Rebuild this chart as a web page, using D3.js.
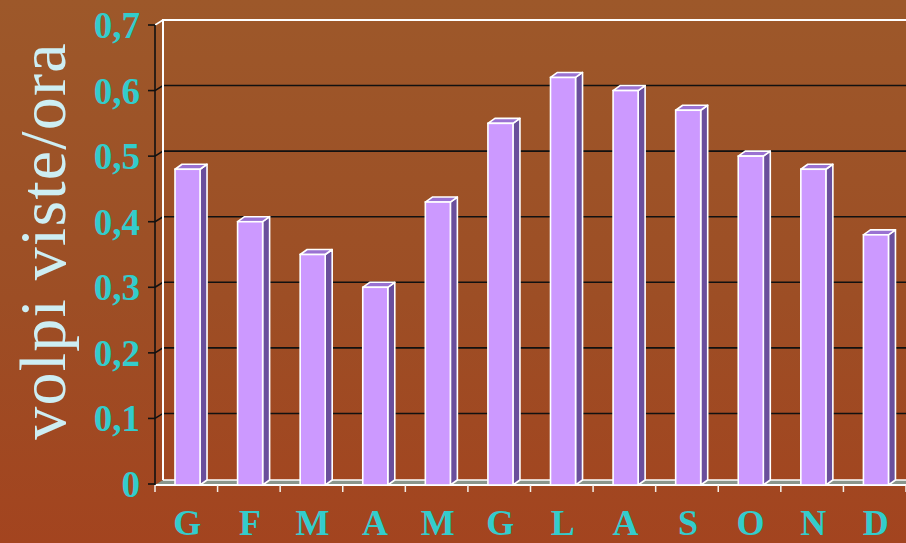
<!DOCTYPE html>
<html>
<head>
<meta charset="utf-8">
<script src="https://cdn.jsdelivr.net/npm/d3@7"></script>
<style>
  html, body { margin: 0; padding: 0; background: #9c4e24; }
  svg { display: block; }
</style>
</head>
<body>
<svg id="chart" width="906" height="543"></svg>
<script>
// Monthly fox sightings per hour
const months = ["G", "F", "M", "A", "M", "G", "L", "A", "S", "O", "N", "D"];
const values = [0.48, 0.40, 0.35, 0.30, 0.43, 0.55, 0.62, 0.60, 0.57, 0.50, 0.48, 0.38];
const yTicks = [0, 0.1, 0.2, 0.3, 0.4, 0.5, 0.6, 0.7];
const yTitle = "volpi viste/ora";

const W = 906, H = 543;
const svg = d3.select("#chart");

// depth offsets for the 3D look
const wallDx = 8, wallDy = -5;
const barDx = 7, barDy = -5;

const x = d3.scaleBand().domain(d3.range(months.length)).range([155, 906]).padding(0);
const y = d3.scaleLinear().domain([0, 0.7]).range([484, 25]);
const fmt = v => v === 0 ? "0" : d3.format(".1f")(v).replace(".", ",");

// background
const defs = svg.append("defs");
const bg = defs.append("linearGradient").attr("id", "bg").attr("x1", 0).attr("y1", 0).attr("x2", 0).attr("y2", 1);
bg.append("stop").attr("offset", "0%").attr("stop-color", "#9d582a");
bg.append("stop").attr("offset", "55%").attr("stop-color", "#9d4e25");
bg.append("stop").attr("offset", "100%").attr("stop-color", "#a3441f");
svg.append("rect").attr("width", W).attr("height", H).attr("fill", "url(#bg)");

const x0 = x.range()[0], x1 = x.range()[1];
const yTop = y(0.7), yBase = y(0);

// floor
svg.append("path")
  .attr("d", `M${x0},${yBase + 1} L${x0 + wallDx},${yBase + 1 + wallDy} L${x1 + wallDx},${yBase + 1 + wallDy} L${x1},${yBase + 1} Z`)
  .attr("fill", "#8a968c").attr("stroke", "none");
svg.append("line").attr("x1", x0 + wallDx).attr("x2", x1 + wallDx)
  .attr("y1", yBase + 1 + wallDy).attr("y2", yBase + 1 + wallDy)
  .attr("stroke", "#ffffff").attr("stroke-width", 1.5);
svg.append("line").attr("x1", x0).attr("x2", x1)
  .attr("y1", yBase + 1).attr("y2", yBase + 1)
  .attr("stroke", "#ffffff").attr("stroke-width", 2);

// gridlines on the back wall with their diagonal links to the axis
const grid = svg.append("g");
yTicks.filter(t => t > 0 && t < 0.7).forEach(t => {
  grid.append("path")
    .attr("d", `M${x0},${y(t)} L${x0 + wallDx},${y(t) + wallDy} L${x1 + wallDx},${y(t) + wallDy}`)
    .attr("fill", "none").attr("stroke", "#111").attr("stroke-width", 1.6);
});

// wall edges
svg.append("path")
  .attr("d", `M${x0 + wallDx},${yBase + 1 + wallDy} L${x0 + wallDx},${yTop + wallDy} L${x1 + wallDx},${yTop + wallDy}`)
  .attr("fill", "none").attr("stroke", "#ffffff").attr("stroke-width", 2);
svg.append("line").attr("x1", x0).attr("y1", yTop).attr("x2", x0 + wallDx).attr("y2", yTop + wallDy)
  .attr("stroke", "#ffffff").attr("stroke-width", 1.5);

// bars
const bw = x.bandwidth() * 0.4;
const bars = svg.append("g").selectAll("g").data(values).join("g")
  .attr("transform", (d, i) => `translate(${x(i) + 20},0)`);

bars.append("path") // side face
  .attr("d", d => `M${bw},${y(d)} L${bw + barDx},${y(d) + barDy} L${bw + barDx},${yBase + 1 + barDy} L${bw},${yBase + 1} Z`)
  .attr("fill", "#6a4f9c").attr("stroke", "#ffffff").attr("stroke-width", 1.6).attr("stroke-linejoin", "round");
bars.append("path") // top face
  .attr("d", d => `M0,${y(d)} L${barDx},${y(d) + barDy} L${bw + barDx},${y(d) + barDy} L${bw},${y(d)} Z`)
  .attr("fill", "#9a72d2").attr("stroke", "#ffffff").attr("stroke-width", 1.6).attr("stroke-linejoin", "round");
bars.append("rect") // front face
  .attr("x", 0).attr("y", d => y(d)).attr("width", bw).attr("height", d => yBase + 1 - y(d))
  .attr("fill", "#cc99ff").attr("stroke", "#ffffff").attr("stroke-width", 1.6);

// y axis
const axisG = svg.append("g");
axisG.append("line").attr("x1", x0).attr("x2", x0).attr("y1", yTop).attr("y2", yBase + 1)
  .attr("stroke", "#111").attr("stroke-width", 1.6);
axisG.selectAll("line.tick").data(yTicks).join("line").attr("class", "tick")
  .attr("x1", x0 - 7).attr("x2", x0).attr("y1", d => y(d)).attr("y2", d => y(d))
  .attr("stroke", "#111").attr("stroke-width", 1.6);
axisG.selectAll("text").data(yTicks).join("text")
  .attr("x", 140).attr("y", d => y(d)).attr("dy", "0.35em")
  .attr("text-anchor", "end")
  .attr("font-family", "'Liberation Serif', 'Times New Roman', serif")
  .attr("font-weight", "bold").attr("font-size", 37).attr("fill", "#33cccc")
  .text(fmt);

// x ticks
svg.append("g").selectAll("line").data(d3.range(months.length + 1)).join("line")
  .attr("x1", i => x0 + i * x.bandwidth()).attr("x2", i => x0 + i * x.bandwidth())
  .attr("y1", yBase + 1).attr("y2", yBase + 8)
  .attr("stroke", "#f4f0ea").attr("stroke-width", 1.5);

// month labels
svg.append("g").selectAll("text").data(months).join("text")
  .attr("x", (d, i) => x(i) + x.bandwidth() / 2 + 1).attr("y", 535)
  .attr("text-anchor", "middle")
  .attr("font-family", "'Liberation Serif', 'Times New Roman', serif")
  .attr("font-weight", "bold").attr("font-size", 36).attr("fill", "#33cccc")
  .text(d => d);

// y axis title
svg.append("text")
  .attr("transform", "translate(65,241) rotate(-90)")
  .attr("text-anchor", "middle")
  .attr("font-family", "'Liberation Serif', 'Times New Roman', serif")
  .attr("font-size", 66).attr("letter-spacing", 1.2).attr("fill", "#cdeef3")
  .text(yTitle);
</script>
</body>
</html>
